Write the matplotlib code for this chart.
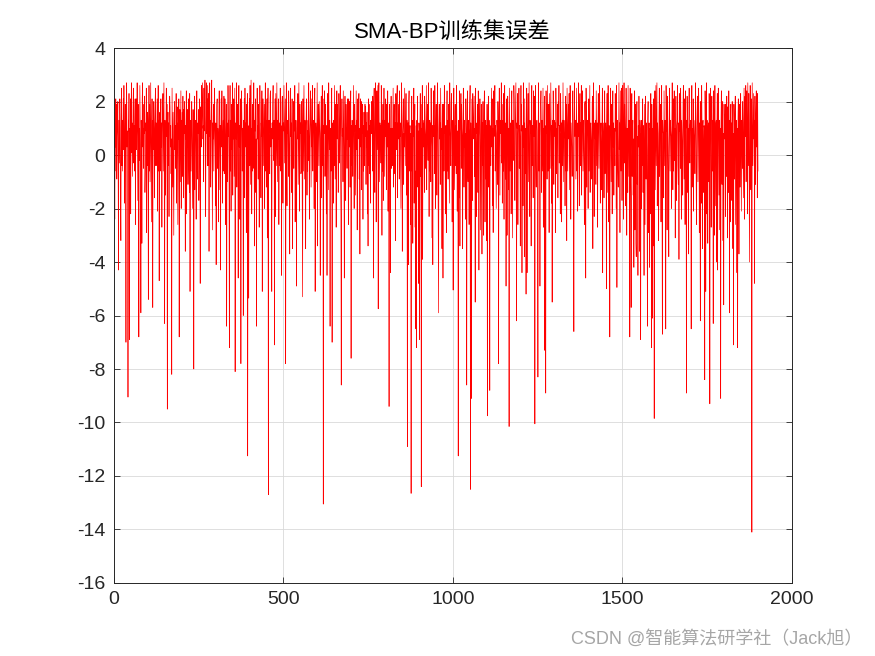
import numpy as np
import matplotlib
matplotlib.use("Agg")
import matplotlib.pyplot as plt

title_text = "SMA-BP训练集误差"
watermark_text = "CSDN @智能算法研学社（Jack旭）"
x_ticks = [0, 500, 1000, 1500, 2000]
y_ticks = [-16, -14, -12, -10, -8, -6, -4, -2, 0, 2, 4]

train_error = [
1.6,0.8,-2.4,1.2,0.3,2.1,-0.6,1.9,-0.9,0.7,1.1,2.0,-0.4,-4.3,1.3,0.6,-0.3,2.1,0.9,-1.6,
-3.2,1.0,2.5,-0.4,1.3,-0.6,0.8,2.1,0.2,2.6,1.1,-1.8,0.7,1.9,-0.6,-7.0,1.2,2.7,0.3,0.9,
0.6,-9.05,1.3,0.9,2.3,-6.9,1.0,-0.4,2.1,-2.2,0.8,2.7,0.1,1.2,-0.8,0.7,1.9,2.5,-0.3,1.1,
-0.6,1.3,2.1,-2.6,0.9,2.1,0.2,1.1,2.7,0.6,-1.7,1.9,0.8,-6.8,1.0,-0.2,2.6,1.2,-0.4,-5.9,
1.3,0.7,-3.3,2.1,2.7,0.3,1.0,-0.5,1.9,0.8,2.2,-1.4,-0.6,1.2,0.9,2.5,-2.9,1.1,-0.4,1.6,
0.8,-5.4,1.2,2.6,-0.6,1.9,-1.0,0.9,2.7,0.3,-2.5,1.1,2.1,0.6,-5.7,1.3,0.2,2.0,1.0,-1.6,
0.9,1.9,2.5,-0.4,1.2,-0.4,0.7,2.1,-2.1,1.0,2.6,-0.6,1.3,-4.7,0.8,1.6,-0.6,1.1,2.1,0.3,
1.2,-2.7,0.8,1.9,2.3,-0.6,1.0,2.7,-0.9,-6.3,1.3,0.6,-1.5,1.1,2.5,0.7,1.9,-9.5,0.9,1.6,
-0.4,1.2,-2.3,0.8,2.2,1.8,0.3,1.1,-0.7,0.6,-8.2,2.5,0.9,-1.2,1.6,-0.5,-3.0,1.0,2.0,0.2,
1.1,-0.5,0.7,2.3,-1.8,0.9,1.8,-0.4,-2.6,1.2,0.6,2.1,-6.8,0.8,1.7,-1.0,1.0,2.4,-2.0,1.3,
0.7,1.6,-0.8,2.2,-0.4,-1.6,1.7,0.8,2.0,0.2,-3.6,1.1,0.6,2.4,-2.2,0.9,0.3,1.7,-1.1,2.1,
1.2,-0.5,-1.4,2.3,-5.1,0.9,1.3,-0.6,0.7,2.0,1.0,-2.0,-0.4,1.7,0.8,-8.0,1.1,2.2,-1.3,0.6,
1.3,0.7,-2.4,1.0,2.4,-0.4,-0.9,1.2,0.8,1.7,-1.7,-0.5,2.1,1.7,-4.8,0.9,1.8,0.3,2.6,1.0,
1.9,2.7,0.6,1.1,-1.0,2.5,0.9,1.3,2.8,-0.6,-2.3,1.2,2.7,0.8,2.1,-0.4,2.6,1.0,-0.4,2.3,
-3.6,1.1,2.7,0.7,1.3,-1.2,0.9,2.1,2.8,-0.4,-2.8,1.2,0.6,1.9,-0.6,0.8,2.5,1.0,0.3,-1.9,
1.2,-4.1,0.7,1.9,2.1,-0.5,1.0,0.6,-2.5,1.3,2.4,0.8,-1.3,1.1,-4.3,0.9,2.1,0.3,2.4,1.0,
-1.8,0.8,1.3,-0.6,2.2,-0.7,1.1,2.1,0.6,-2.6,0.9,1.9,-6.4,1.2,-0.4,-1.0,2.6,0.7,1.3,-0.3,
-7.2,1.0,2.6,-0.6,1.3,-2.1,0.8,1.9,0.2,2.7,-1.5,1.1,0.6,2.1,-0.8,0.9,2.5,-8.1,1.2,0.7,
0.6,2.7,-1.2,1.0,1.9,0.8,-4.6,1.2,2.6,0.3,1.1,-2.4,0.7,2.1,-7.8,0.9,2.4,1.3,-0.6,1.0,
1.0,-6.0,1.3,-0.6,2.1,-1.6,2.5,0.8,0.3,1.2,-2.9,1.9,0.7,2.3,-11.25,1.1,0.6,-5.35,0.9,2.1,
-0.4,2.6,-1.1,1.2,2.8,0.7,-2.2,1.0,-0.6,1.9,-0.5,0.8,2.7,0.2,-3.4,1.3,0.9,2.1,-1.4,0.6,
-6.4,1.3,2.5,0.6,1.1,-0.9,1.9,0.8,-2.7,-0.6,2.6,1.0,0.1,-1.6,1.2,0.7,2.4,-5.1,0.9,2.1,
1.2,-0.4,0.7,1.9,-2.0,1.0,2.7,-0.6,1.3,-1.2,0.8,2.1,-3.1,1.1,2.5,-12.7,0.8,1.3,-0.4,-0.7,
2.1,2.4,0.3,1.0,-1.5,-5.1,1.2,0.6,1.9,2.6,-0.2,0.9,1.3,-7.1,0.7,2.1,-2.3,2.3,1.0,-0.4,
2.7,1.0,-1.0,1.3,0.6,2.1,-2.6,0.8,1.2,-0.4,2.5,-0.6,1.1,0.7,-4.5,1.9,2.2,0.9,-1.8,1.2,
0.9,2.6,1.2,-0.3,1.0,2.1,-7.8,0.6,2.7,-0.4,-1.9,1.3,0.8,1.1,-0.8,2.4,1.0,0.2,-3.7,1.3,
2.5,0.7,1.2,-1.4,0.9,2.1,-3.5,-0.6,1.1,2.0,-0.5,1.9,0.9,2.6,-2.5,0.8,1.3,0.3,-4.9,1.0,
1.3,0.6,2.3,-1.1,1.0,2.7,-0.4,-2.1,1.9,0.8,1.2,-0.7,-0.6,2.0,1.1,-1.7,-5.3,2.1,-0.6,0.9,
2.6,1.0,-0.9,1.3,0.7,-3.5,1.1,1.9,2.1,-1.5,0.9,-0.6,1.3,-0.2,2.7,1.0,-2.4,0.6,1.2,2.4,
1.1,-1.2,0.7,2.1,0.3,2.6,-0.6,1.0,1.3,0.8,-2.0,1.9,2.5,-5.1,-0.6,1.2,0.9,-1.0,1.2,2.7,
-3.4,1.0,1.9,0.9,-0.4,2.0,1.3,0.6,-4.5,0.7,1.2,2.2,-1.6,1.0,2.6,-0.4,2.1,-13.05,1.1,0.8,
1.2,2.4,-0.8,0.9,1.9,-0.6,-2.2,1.1,-4.5,0.8,2.3,0.6,-1.3,2.7,1.1,0.2,1.3,-6.4,1.0,0.7,
-0.6,2.1,2.5,-7.0,0.8,1.2,-0.6,-1.8,1.3,-0.4,2.6,1.0,-0.9,1.9,0.7,-2.7,1.1,2.4,0.6,1.9,
0.9,-1.4,-0.6,2.3,1.2,-0.3,0.8,2.6,-0.6,-2.3,-8.6,1.2,2.1,0.7,1.0,-1.0,2.4,1.3,0.2,-4.6,
1.1,2.2,0.8,-1.7,1.9,0.6,1.0,-0.5,2.1,0.6,1.3,-2.6,2.1,0.9,0.3,2.0,-1.2,1.1,2.4,-7.6,
1.1,-0.4,1.3,0.8,-0.8,1.2,2.6,0.7,-2.0,1.9,0.9,1.1,-1.5,0.6,2.4,0.2,1.3,-2.8,1.0,2.1,
0.6,1.2,2.3,-0.9,1.0,-3.7,0.8,2.1,0.3,2.0,-1.3,1.2,0.8,1.9,-2.4,1.1,-0.6,1.6,0.9,-0.4,
1.9,0.7,1.8,-1.1,1.2,0.3,1.6,-2.2,0.9,-3.4,2.1,-0.4,1.9,-0.7,1.1,0.6,-1.8,1.3,0.8,2.0,
0.8,1.3,-0.6,2.2,1.0,-4.6,1.9,2.5,-0.6,-1.4,1.1,2.7,0.9,-2.5,1.2,2.4,0.2,1.3,2.6,-5.75,
2.1,2.7,0.6,-1.0,1.2,0.8,1.1,-0.3,2.6,0.8,-3.0,1.3,-0.6,1.9,-1.7,0.9,2.5,1.0,-0.8,1.3,
0.7,2.1,1.2,-1.3,1.9,0.6,0.3,2.4,-2.1,0.9,1.2,-9.4,1.9,-0.6,1.0,-4.4,1.1,2.2,-0.5,0.8,
1.0,-0.4,1.3,2.5,-1.2,0.9,1.9,0.8,-0.7,1.2,-3.2,2.3,1.0,0.2,2.1,2.6,-1.6,1.2,0.6,1.0,
1.9,-0.9,2.4,0.7,1.2,-0.6,-2.0,1.0,2.7,1.3,-3.6,0.7,1.1,2.1,-1.1,0.8,0.3,2.5,1.1,-0.4,
1.0,2.3,0.9,-1.5,1.3,-10.9,0.6,1.2,-4.1,1.9,2.4,-0.6,0.9,1.1,-2.6,0.8,-12.65,1.2,2.2,-0.6,
1.3,-3.3,1.0,0.7,2.5,-1.8,1.0,1.9,-2.7,-0.6,-6.5,1.1,-7.2,1.3,-0.4,2.2,-1.2,0.9,-4.8,1.2,
0.9,-6.9,1.2,2.3,-0.8,1.9,-12.4,1.0,0.6,2.6,-3.9,1.2,0.8,0.3,1.3,-1.4,2.2,1.0,0.7,-0.5,
1.2,2.6,-1.3,0.8,1.9,1.0,-0.2,2.7,1.0,-2.3,0.7,1.3,-0.6,1.2,-1.0,2.5,0.8,0.3,-3.1,1.1,
-4.1,1.3,2.4,0.7,1.1,-0.7,2.6,1.1,-2.0,0.9,1.9,-0.4,-1.5,1.2,2.7,0.9,-2.8,-5.9,1.0,1.9,
0.6,1.2,-1.1,2.5,1.2,0.2,1.0,-3.5,1.9,1.0,-4.6,0.8,1.9,-0.6,2.6,0.8,1.1,-2.2,0.7,1.1,
-2.9,1.2,2.4,-0.6,1.3,-0.9,0.8,1.9,0.3,-1.8,2.7,1.0,0.6,-0.4,1.9,2.3,0.7,-2.5,1.0,1.3,
-5.05,1.2,2.5,0.8,-1.3,1.0,1.9,-0.4,1.1,-0.7,2.6,1.1,-2.1,0.9,0.6,-11.25,1.3,1.0,-1.6,2.4,
-3.4,0.9,1.2,2.3,-0.5,1.9,1.0,0.7,-3.5,1.1,2.5,1.0,-1.2,1.3,0.3,0.8,-2.4,2.1,2.1,0.8,
-8.6,1.0,2.4,-0.6,-1.0,1.3,0.9,-2.6,0.7,1.9,2.6,-12.5,1.2,-0.4,-9.1,1.0,2.1,-1.7,2.3,1.0,
0.6,1.3,2.2,-0.8,1.0,-5.5,2.5,1.1,0.2,-2.3,1.2,0.8,1.9,-1.4,2.4,1.0,-4.3,0.7,1.2,2.1,
-0.6,-2.8,1.1,1.9,1.0,-3.7,1.2,-0.4,2.0,-1.5,-3.0,1.2,2.4,0.7,-2.5,1.0,1.3,-0.9,1.1,-3.2,
1.9,-9.75,0.8,1.2,2.2,-1.2,1.3,0.6,-8.8,1.1,1.0,-0.4,0.9,2.5,0.3,2.1,-1.9,1.0,-2.9,1.2,
2.4,0.7,1.1,2.6,-0.6,1.1,0.8,-2.0,-0.4,1.3,1.0,-1.1,2.0,0.9,-7.8,1.2,2.5,0.3,-1.5,1.3,
0.8,1.1,2.7,-0.3,1.9,-1.8,1.0,1.3,-0.6,2.3,-2.4,1.1,2.6,0.2,-0.9,1.2,-4.9,0.8,2.1,-3.0,
0.7,2.2,1.3,-1.3,1.0,-10.15,2.5,0.9,-0.6,1.2,0.8,-2.2,1.1,2.4,-0.4,-3.1,1.3,1.2,-0.2,2.6,
2.1,0.6,-1.7,1.0,1.9,2.7,-0.8,-6.2,1.2,1.0,2.3,-2.6,0.8,1.3,2.5,-0.5,1.1,0.7,-3.4,1.2,
2.6,0.9,1.9,-4.4,1.0,1.1,-1.9,2.7,0.3,1.2,-3.8,2.1,0.8,-0.7,1.0,-5.2,1.3,2.5,-4.4,0.6,
1.2,2.3,-1.0,1.0,2.7,-0.6,-2.3,1.3,0.9,0.8,-3.4,1.9,2.6,-0.4,1.1,0.7,-1.6,2.4,0.7,1.2,
2.2,-10.05,1.3,2.6,-0.4,-1.2,1.0,1.3,0.9,-2.0,-8.3,1.2,2.7,-0.6,1.2,0.8,-4.9,0.7,1.9,2.4,
1.0,-1.4,1.3,-0.6,1.2,2.5,-2.7,1.0,0.6,2.2,-7.3,1.1,0.9,-8.9,2.4,0.8,1.9,-0.9,2.6,1.2,
-0.6,1.0,1.9,-2.9,2.3,1.0,-0.5,1.2,2.7,0.9,-1.8,1.1,-5.5,1.3,-0.4,2.4,1.0,-1.1,1.3,0.8,
0.7,1.2,-2.9,2.5,1.2,-0.7,1.0,0.6,1.9,-1.6,2.0,1.1,2.6,-0.3,1.1,0.8,-2.2,2.3,0.9,1.2,
-2.5,1.1,1.3,-0.4,2.7,1.0,-1.0,1.3,0.8,0.6,-1.9,1.2,2.2,-0.6,1.9,-3.2,2.5,1.0,-0.6,1.2,
1.9,0.6,2.3,-1.3,1.0,2.6,0.9,-2.4,1.2,0.8,0.3,-0.8,1.3,2.4,1.1,-1.7,-6.6,1.2,2.7,0.7,
1.3,0.9,-0.9,1.1,2.5,-0.6,1.2,-2.1,1.0,0.7,2.7,0.8,-1.9,1.3,2.3,-0.4,1.2,0.6,2.6,-1.5,
1.0,2.4,1.1,-0.6,1.3,0.8,-0.4,-2.6,1.9,2.0,0.9,-4.6,2.5,1.2,-1.2,1.0,1.3,0.7,-2.0,1.2,
2.1,-0.6,1.3,2.6,-1.4,1.0,1.2,0.8,0.3,-0.9,1.9,2.2,-3.5,1.1,2.7,0.8,-2.3,1.2,1.0,0.6,
1.3,-1.1,2.4,1.0,-0.4,1.2,-2.7,0.9,2.3,0.9,-0.5,1.9,2.6,1.0,-1.8,0.8,1.2,0.2,-1.3,1.1,
2.5,-4.4,1.2,0.8,0.6,-1.6,1.3,2.4,-0.7,1.0,1.2,0.8,-5.0,1.3,2.3,-1.4,0.9,2.6,1.1,-2.5,
1.1,0.7,-6.8,1.2,2.5,0.7,-1.0,1.9,1.0,-2.2,1.2,2.4,0.3,1.2,-1.5,1.0,0.6,-0.4,2.3,0.9,
1.3,-2.0,2.6,-4.95,1.3,1.0,-0.6,-1.2,1.1,2.7,0.2,1.2,-2.9,2.4,1.0,-0.6,1.3,2.5,-1.7,1.2,
2.6,0.8,-2.4,1.1,2.7,-0.3,1.9,1.0,-1.9,0.9,2.5,1.2,-3.0,1.0,0.6,-1.4,2.6,1.1,-0.8,1.3,
1.2,-6.8,2.5,-0.4,-1.6,-5.7,1.1,2.3,-0.8,1.0,1.3,-1.5,0.6,-4.2,1.1,2.4,-2.8,0.9,1.9,-3.3,
-3.8,1.2,2.0,-1.1,0.7,-4.5,1.1,0.3,2.2,0.6,-3.6,1.3,1.0,-6.9,0.8,-2.0,1.3,-0.4,1.1,2.1,
-1.4,1.1,0.1,-4.5,1.9,-0.6,-2.6,2.2,1.0,-0.9,1.2,0.2,-1.8,-6.4,1.3,2.0,-2.9,0.7,1.2,-4.2,
1.0,-2.2,1.1,2.3,-0.7,-7.2,1.9,0.6,-6.1,1.0,-3.4,2.1,0.9,-9.85,1.2,2.4,-1.3,1.0,2.6,-0.4,
1.1,2.7,-1.9,1.2,0.8,-0.6,-3.2,1.3,2.5,-0.8,1.0,1.9,0.7,-2.5,1.1,2.6,-1.2,-6.7,1.3,0.9,
0.8,-1.6,2.4,1.0,-0.4,1.3,1.1,-6.5,2.6,0.9,1.2,-2.8,2.2,1.0,0.3,-1.0,-3.8,1.2,2.5,1.0,
-0.6,1.3,0.9,0.7,-2.0,1.2,2.7,1.0,-1.3,2.1,-0.6,1.2,2.4,-0.2,1.0,-3.1,1.0,2.2,0.6,-1.7,
1.1,1.3,2.6,-0.4,-1.1,1.2,-3.9,2.3,0.9,1.0,-0.5,2.5,1.1,-2.4,1.3,0.8,0.3,-1.5,1.9,2.6,
0.7,-0.9,2.1,1.0,-2.6,2.4,1.0,1.3,-8.9,-0.6,2.2,1.3,-1.4,1.0,-3.7,1.2,2.5,0.8,-0.3,1.1,
1.3,0.9,-6.5,1.1,2.6,-1.2,1.0,-0.4,2.1,-2.1,1.3,0.8,0.6,-0.7,1.2,2.7,1.1,-1.6,-2.6,1.0,
1.9,2.2,-1.0,0.8,2.5,1.1,-2.9,1.2,-0.6,-6.2,2.0,1.2,-1.8,2.6,0.9,-3.5,1.1,1.3,0.3,-1.4,
1.1,1.0,-8.4,2.4,0.7,-5.1,1.2,2.7,-2.2,1.3,-0.4,-3.3,1.0,1.2,-1.0,2.3,0.8,-9.3,1.1,2.5,
0.6,-2.7,1.2,2.2,1.1,-0.6,1.3,-6.3,2.4,0.9,-3.0,1.0,2.6,0.2,-1.9,1.2,1.3,-4.0,1.0,2.3,
-4.3,1.2,2.5,0.7,-1.5,1.0,1.3,-2.8,1.0,-9.1,1.2,2.4,-0.6,-1.1,1.1,2.0,-3.2,0.8,-5.6,1.9,
1.1,0.6,1.5,-2.3,1.9,1.0,-0.8,2.2,0.3,-3.1,1.8,1.2,-1.4,2.4,0.7,-5.9,1.3,-2.5,1.1,1.9,
-0.4,1.2,-1.7,2.0,1.3,-3.5,0.8,-7.1,1.9,1.1,-0.9,1.2,2.2,-2.6,-0.5,1.3,1.0,-4.4,1.0,-7.2,
1.2,2.1,0.6,-3.7,1.0,1.9,-1.2,1.1,2.3,0.3,-2.1,1.3,1.0,-0.5,2.0,1.2,-1.6,0.8,2.5,-2.4,
1.3,2.2,0.7,2.6,-1.0,1.2,2.4,0.9,-2.2,2.7,1.0,-0.4,2.3,-0.6,-4.0,1.2,2.6,1.0,-1.3,2.1,
0.8,-14.1,2.7,1.2,-0.4,1.0,2.3,0.6,1.3,-4.8,2.2,1.0,-1.1,1.2,2.4,0.3,1.9,-1.6,2.3,-0.6,
]

sample_index = np.arange(1, len(train_error) + 1)

plt.rcParams['font.family'] = ['Liberation Sans', 'Noto Sans CJK SC', 'DejaVu Sans']

fig = plt.figure(figsize=(8.75, 6.56), dpi=100)
ax = fig.add_axes([0.13, 0.1113, 0.775, 0.8155])

ax.plot(sample_index, train_error, color='#ff0000', linewidth=0.5)

ax.set_xlim(0, 2000)
ax.set_ylim(-16, 4)
ax.set_xticks(x_ticks)
ax.set_yticks(y_ticks)
ax.set_xticklabels([str(v) for v in x_ticks])
ax.set_yticklabels([str(v) for v in y_ticks])

ax.grid(True, color='#d9d9d9', linewidth=0.6)
ax.set_axisbelow(True)
ax.tick_params(direction='in', length=4.5, width=0.6, colors='#262626',
               labelsize=14, top=True, right=True, pad=6)
for s in ax.spines.values():
    s.set_color('#262626')
    s.set_linewidth(0.7)

ax.set_title(title_text, fontsize=16, color='#000000', pad=7)

fig.text(0.986, 0.012, watermark_text, ha='right', va='bottom',
         fontsize=13, color='#a6a6a6')

fig.savefig('out.png', dpi=100)
